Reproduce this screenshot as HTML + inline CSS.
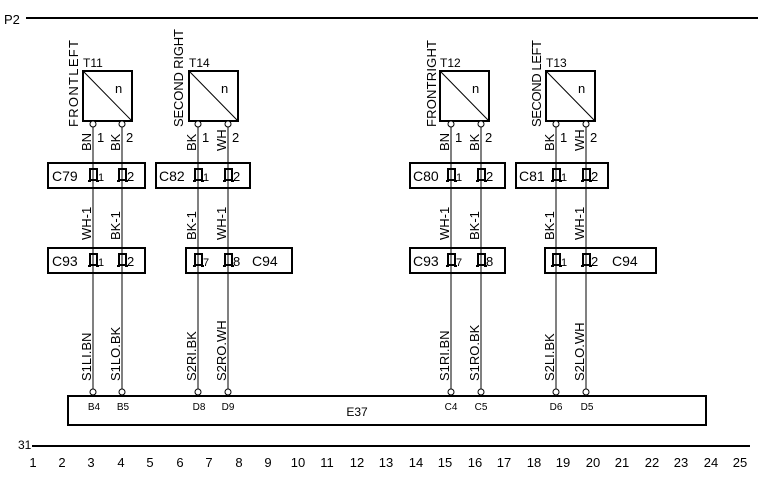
<!DOCTYPE html>
<html><head><meta charset="utf-8"><style>
html,body{margin:0;padding:0;background:#fff;width:758px;height:479px;overflow:hidden}
svg text{font-family:"Liberation Sans",sans-serif;fill:#000}
</style></head><body>
<svg width="758" height="479" viewBox="0 0 758 479" xmlns="http://www.w3.org/2000/svg">
<defs>
<g id="pin"><rect x="-3" y="-6" width="7" height="11" fill="none" stroke="#000" stroke-width="2"/><line x1="-5" y1="6" x2="-2" y2="6" stroke="#000" stroke-width="2"/><line x1="3" y1="6" x2="6" y2="6" stroke="#000" stroke-width="2"/></g>
</defs>
<text x="4" y="24" font-size="13">P2</text>
<line x1="26" y1="18" x2="758" y2="18" stroke="#000" stroke-width="2"/>
<text x="18" y="449" font-size="12">31</text>
<line x1="32" y1="446" x2="750" y2="446" stroke="#000" stroke-width="2"/>
<g font-size="13" text-anchor="middle">
<text x="33" y="467">1</text><text x="62" y="467">2</text><text x="91" y="467">3</text><text x="121" y="467">4</text><text x="150" y="467">5</text><text x="180" y="467">6</text><text x="209" y="467">7</text><text x="239" y="467">8</text><text x="268" y="467">9</text><text x="298" y="467">10</text><text x="327" y="467">11</text><text x="357" y="467">12</text><text x="386" y="467">13</text><text x="416" y="467">14</text><text x="445" y="467">15</text><text x="475" y="467">16</text><text x="504" y="467">17</text><text x="534" y="467">18</text><text x="563" y="467">19</text><text x="593" y="467">20</text><text x="622" y="467">21</text><text x="652" y="467">22</text><text x="681" y="467">23</text><text x="711" y="467">24</text><text x="740" y="467">25</text>
</g>

<g stroke="#000" stroke-width="1">
<line x1="93" y1="127" x2="93" y2="390"/><line x1="122" y1="127" x2="122" y2="390"/>
<line x1="198" y1="127" x2="198" y2="390"/><line x1="228" y1="127" x2="228" y2="390"/>
<line x1="451" y1="127" x2="451" y2="390"/><line x1="481" y1="127" x2="481" y2="390"/>
<line x1="556" y1="127" x2="556" y2="390"/><line x1="586" y1="127" x2="586" y2="390"/>
</g>

<g stroke="#000" fill="#fff">
<rect x="83" y="71" width="49" height="50" stroke-width="2"/>
<rect x="189" y="71" width="49" height="50" stroke-width="2"/>
<rect x="440" y="71" width="49" height="50" stroke-width="2"/>
<rect x="546" y="71" width="49" height="50" stroke-width="2"/>
<line x1="84" y1="72" x2="131" y2="120"/><line x1="190" y1="72" x2="237" y2="120"/>
<line x1="441" y1="72" x2="488" y2="120"/><line x1="547" y1="72" x2="594" y2="120"/>
<circle cx="93" cy="124" r="3"/><circle cx="122" cy="124" r="3"/>
<circle cx="198" cy="124" r="3"/><circle cx="228" cy="124" r="3"/>
<circle cx="451" cy="124" r="3"/><circle cx="481" cy="124" r="3"/>
<circle cx="556" cy="124" r="3"/><circle cx="586" cy="124" r="3"/>
</g>
<g font-size="13">
<text x="83" y="67" font-size="12">T11</text><text x="189" y="67" font-size="12">T14</text><text x="440" y="67" font-size="12">T12</text><text x="546" y="67" font-size="12">T13</text>
<text x="115" y="93">n</text><text x="221" y="93">n</text><text x="472" y="93">n</text><text x="578" y="93">n</text>
<text transform="translate(78,127) rotate(-90)" textLength="87">FRONTLEFT</text>
<text transform="translate(183,127) rotate(-90)" textLength="98">SECOND RIGHT</text>
<text transform="translate(436,127) rotate(-90)" textLength="87">FRONTRIGHT</text>
<text transform="translate(541,127) rotate(-90)" textLength="87">SECOND LEFT</text>
<text transform="translate(91,151) rotate(-90)">BN</text><text x="97" y="142">1</text>
<text transform="translate(120,151) rotate(-90)">BK</text><text x="126" y="142">2</text>
<text transform="translate(196,151) rotate(-90)">BK</text><text x="202" y="142">1</text>
<text transform="translate(226,151) rotate(-90)">WH</text><text x="232" y="142">2</text>
<text transform="translate(449,151) rotate(-90)">BN</text><text x="455" y="142">1</text>
<text transform="translate(479,151) rotate(-90)">BK</text><text x="485" y="142">2</text>
<text transform="translate(554,151) rotate(-90)">BK</text><text x="560" y="142">1</text>
<text transform="translate(584,151) rotate(-90)">WH</text><text x="590" y="142">2</text>
<text transform="translate(91,240) rotate(-90)">WH-1</text>
<text transform="translate(120,240) rotate(-90)">BK-1</text>
<text transform="translate(196,240) rotate(-90)">BK-1</text>
<text transform="translate(226,240) rotate(-90)">WH-1</text>
<text transform="translate(449,240) rotate(-90)">WH-1</text>
<text transform="translate(479,240) rotate(-90)">BK-1</text>
<text transform="translate(554,240) rotate(-90)">BK-1</text>
<text transform="translate(584,240) rotate(-90)">WH-1</text>
<text transform="translate(91,381) rotate(-90)">S1LI.BN</text>
<text transform="translate(120,381) rotate(-90)">S1LO.BK</text>
<text transform="translate(196,381) rotate(-90)">S2RI.BK</text>
<text transform="translate(226,381) rotate(-90)">S2RO.WH</text>
<text transform="translate(449,381) rotate(-90)">S1RI.BN</text>
<text transform="translate(479,381) rotate(-90)">S1RO.BK</text>
<text transform="translate(554,381) rotate(-90)">S2LI.BK</text>
<text transform="translate(584,381) rotate(-90)">S2LO.WH</text>
</g>

<g fill="none" stroke="#000" stroke-width="2">
<rect x="48" y="163" width="97" height="25"/><rect x="156" y="163" width="94" height="25"/>
<rect x="410" y="163" width="95" height="25"/><rect x="516" y="163" width="92" height="25"/>
<rect x="48" y="248" width="97" height="25"/><rect x="186" y="248" width="106" height="25"/>
<rect x="410" y="248" width="95" height="25"/><rect x="545" y="248" width="111" height="25"/>
</g>
<g>
<use href="#pin" x="93" y="175"/><use href="#pin" x="122" y="175"/><use href="#pin" x="198" y="175"/><use href="#pin" x="228" y="175"/>
<use href="#pin" x="451" y="175"/><use href="#pin" x="481" y="175"/><use href="#pin" x="556" y="175"/><use href="#pin" x="586" y="175"/>
<use href="#pin" x="93" y="260"/><use href="#pin" x="122" y="260"/><use href="#pin" x="198" y="260"/><use href="#pin" x="228" y="260"/>
<use href="#pin" x="451" y="260"/><use href="#pin" x="481" y="260"/><use href="#pin" x="556" y="260"/><use href="#pin" x="586" y="260"/>
</g>
<g font-size="14">
<text x="52" y="181">C79</text><text x="98" y="181" font-size="11">1</text><text x="127" y="181" font-size="13">2</text>
<text x="159" y="181">C82</text><text x="203" y="181" font-size="11">1</text><text x="233" y="181" font-size="13">2</text>
<text x="413" y="181">C80</text><text x="456" y="181" font-size="11">1</text><text x="486" y="181" font-size="13">2</text>
<text x="519" y="181">C81</text><text x="561" y="181" font-size="11">1</text><text x="591" y="181" font-size="13">2</text>
<text x="52" y="266">C93</text><text x="98" y="266" font-size="11">1</text><text x="127" y="266" font-size="13">2</text>
<text x="203" y="266" font-size="11">7</text><text x="233" y="266" font-size="13">8</text><text x="252" y="266">C94</text>
<text x="413" y="266">C93</text><text x="456" y="266" font-size="11">7</text><text x="486" y="266" font-size="13">8</text>
<text x="561" y="266" font-size="11">1</text><text x="591" y="266" font-size="13">2</text><text x="612" y="266">C94</text>
</g>

<rect x="68" y="396" width="638" height="29" fill="none" stroke="#000" stroke-width="2"/>
<g fill="#fff" stroke="#000">
<circle cx="93" cy="392" r="3"/><circle cx="122" cy="392" r="3"/><circle cx="198" cy="392" r="3"/><circle cx="228" cy="392" r="3"/>
<circle cx="451" cy="392" r="3"/><circle cx="481" cy="392" r="3"/><circle cx="556" cy="392" r="3"/><circle cx="586" cy="392" r="3"/>
</g>
<g font-size="10" text-anchor="middle">
<text x="94" y="410">B4</text><text x="123" y="410">B5</text><text x="199" y="410">D8</text><text x="228" y="410">D9</text>
<text x="451" y="410">C4</text><text x="481" y="410">C5</text><text x="556" y="410">D6</text><text x="587" y="410">D5</text>
</g>
<text x="357" y="416" font-size="12" text-anchor="middle">E37</text>
</svg>
</body></html>
